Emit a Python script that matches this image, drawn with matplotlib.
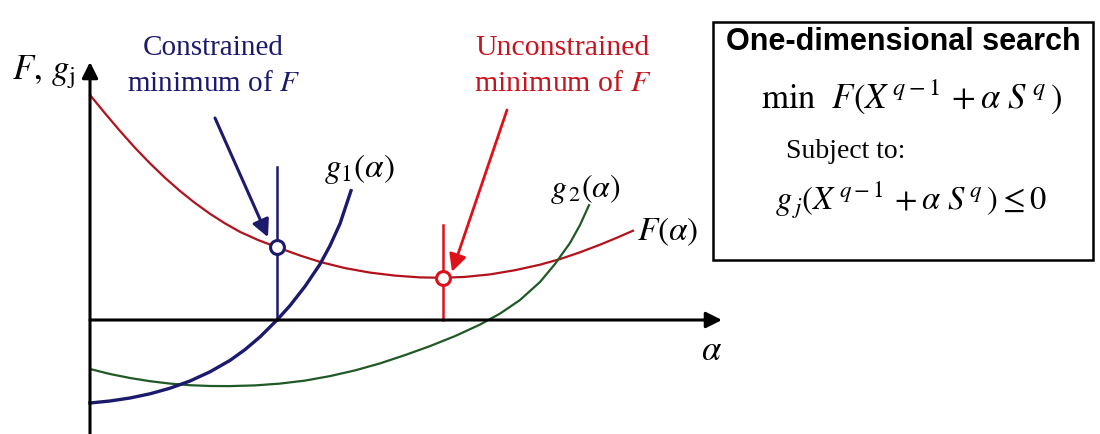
import numpy as np
import matplotlib
matplotlib.use("Agg")
import matplotlib.pyplot as plt
from matplotlib.patches import Rectangle

plt.rcParams["mathtext.fontset"] = "stix"
plt.rcParams["font.family"] = ["Liberation Serif", "DejaVu Serif"]

# curves (alpha, value); origin where the axes cross
f_alpha = [0, 0.15, 0.30, 0.45, 0.60, 0.75, 0.90, 1.05, 1.20, 1.35, 1.50, 1.68,
           1.87, 2.10, 2.30, 2.55, 2.80, 3.05, 3.30, 3.53, 3.75, 4.00, 4.25,
           4.50, 4.70, 4.90, 5.10, 5.27, 5.43]
f_val = [2.25, 2.067, 1.89, 1.722, 1.566, 1.422, 1.29, 1.17, 1.062, 0.966,
         0.881, 0.80, 0.728, 0.645, 0.581, 0.519, 0.474, 0.444, 0.426, 0.422,
         0.431, 0.456, 0.498, 0.553, 0.609, 0.677, 0.753, 0.823, 0.893]

g1_alpha = [0, 0.2, 0.4, 0.6, 0.8, 1.0, 1.2, 1.4, 1.55, 1.7, 1.87, 2.0, 2.15,
            2.3, 2.4, 2.5, 2.61]
g1_val = [-0.83, -0.81, -0.78, -0.738, -0.682, -0.61, -0.518, -0.404, -0.296,
          -0.169, 0, 0.144, 0.336, 0.558, 0.743, 0.963, 1.293]

g2_alpha = [0, 0.2, 0.4, 0.6, 0.8, 1.0, 1.2, 1.4, 1.65, 1.9, 2.15, 2.4, 2.65,
            2.9, 3.15, 3.4, 3.65, 3.9, 4.1, 4.3, 4.5, 4.65, 4.8, 4.9, 4.99]
g2_val = [-0.49, -0.54, -0.58, -0.612, -0.636, -0.652, -0.66, -0.661, -0.654,
          -0.636, -0.606, -0.561, -0.504, -0.434, -0.351, -0.261, -0.161,
          -0.046, 0.064, 0.20, 0.38, 0.56, 0.77, 0.95, 1.148]

con_idx = 12     # constrained minimum: point of F where g1 = 0
unc_idx = 19     # unconstrained minimum of F
con_top = 1.53   # top of the vertical marker lines
unc_top = 0.95

RED = "#b3121c"
RED2 = "#e0101a"
NAVY = "#1c1a6c"
GREEN = "#1f5a25"

fig = plt.figure(figsize=(11, 4.34), dpi=100)
ax = fig.add_axes([0, 0, 1, 1])
ax.set_xlim(-0.9, 10.1)
ax.set_ylim(-1.14, 3.20)
ax.axis("off")

# axes with arrow heads
axkw = dict(arrowstyle="-|>", lw=2.2, color="black", mutation_scale=24,
            shrinkA=0, shrinkB=0)
ax.annotate("", xy=(0, 2.58), xytext=(0, -1.16), arrowprops=axkw)
ax.annotate("", xy=(6.32, 0), xytext=(0, 0), arrowprops=axkw)

# curves
ax.plot(f_alpha, f_val, color=RED, lw=1.6, solid_joinstyle="round")
ax.plot(g2_alpha, g2_val, color=GREEN, lw=1.6, solid_joinstyle="round")
ax.plot(g1_alpha, g1_val, color=NAVY, lw=2.4, solid_joinstyle="round")

# vertical markers
xc, yc = f_alpha[con_idx], f_val[con_idx]
xu, yu = f_alpha[unc_idx], f_val[unc_idx]
ax.plot([xc, xc], [0, con_top], color=NAVY, lw=1.8)
ax.plot([xu, xu], [0, unc_top], color=RED2, lw=1.8)
ax.plot(xc, yc, "o", ms=10, mfc="white", mec=NAVY, mew=2.2, zorder=5)
ax.plot(xu, yu, "o", ms=10, mfc="white", mec=RED2, mew=2.2, zorder=5)

# pointer arrows
ax.annotate("", xy=(xc - 0.09, yc + 0.10), xytext=(1.25, 2.02),
            arrowprops=dict(arrowstyle="-|>", lw=2.2, color=NAVY,
                            mutation_scale=26, shrinkA=0, shrinkB=0))
ax.annotate("", xy=(xu + 0.09, yu + 0.06), xytext=(4.17, 2.10),
            arrowprops=dict(arrowstyle="-|>", lw=2.0, color=RED2,
                            mutation_scale=26, shrinkA=0, shrinkB=0))

# labels
ax.text(1.23, 2.72, "Constrained", color=NAVY, fontsize=21, ha="center", va="center")
ax.text(1.23, 2.36, r"minimum of $F$", color=NAVY, fontsize=21, ha="center", va="center")
ax.text(4.73, 2.72, "Unconstrained", color="#c8141e", fontsize=21.5, ha="center", va="center")
ax.text(4.73, 2.36, r"minimum of $F$", color="#c8141e", fontsize=21.5, ha="center", va="center")

ax.text(-0.46, 2.48, r"$F,\,g_{\mathrm{j}}$", fontsize=25, ha="center", va="center")
ax.text(2.69, 1.51, r"$g_1(\alpha)$", fontsize=24, ha="center", va="center")
ax.text(4.95, 1.31, r"$g_{\,2}(\alpha)$", fontsize=23, ha="center", va="center")
ax.text(5.78, 0.88, r"$F(\alpha)$", fontsize=24, ha="center", va="center")
ax.text(6.22, -0.32, r"$\alpha$", fontsize=25, ha="center", va="center")

# problem statement box
ax.add_patch(Rectangle((6.23, 0.60), 3.80, 2.38, fill=False, lw=1.8, ec="black"))
ax.text(8.13, 2.78, "One-dimensional search", fontsize=22, fontweight="bold",
        family=["Liberation Sans", "DejaVu Sans"], ha="center", va="center")
ax.text(8.21, 2.23, r"$\mathrm{min}\ \ F(X^{\,q-1}\,+\alpha\ S^{\,q}\,)$", fontsize=25,
        ha="center", va="center")
ax.text(7.56, 1.68, "Subject to:", fontsize=20, ha="center", va="center")
ax.text(8.21, 1.20, r"$g_{\,j}(X^{\,q-1}\,+\alpha\ S^{\,q}\,)\leq 0$", fontsize=23.5,
        ha="center", va="center")

fig.savefig("out.png", dpi=100)
